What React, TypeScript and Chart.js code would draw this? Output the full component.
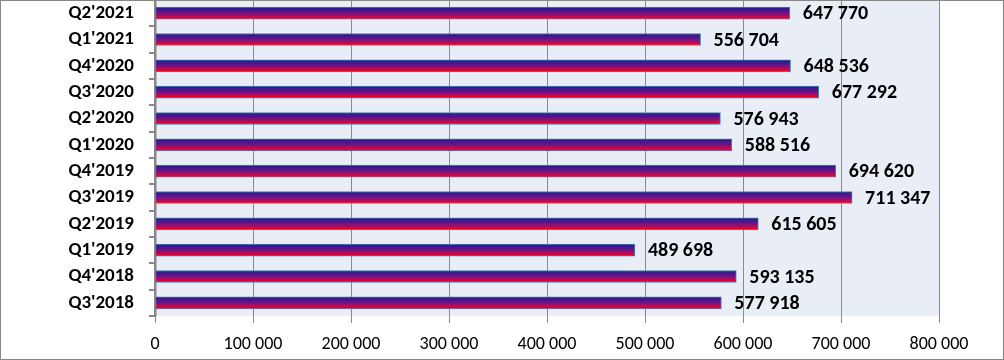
import React, { useEffect, useRef } from "react";
import { Chart, registerables } from "chart.js";

Chart.register(...registerables);

const categories = [
  "Q3'2018", "Q4'2018", "Q1'2019", "Q2'2019", "Q3'2019", "Q4'2019",
  "Q1'2020", "Q2'2020", "Q3'2020", "Q4'2020", "Q1'2021", "Q2'2021",
];
const values = [
  577918, 593135, 489698, 615605, 711347, 694620,
  588516, 576943, 677292, 648536, 556704, 647770,
];
const xMin = 0;
const xMax = 800000;
const xStep = 100000;

const FONT = "Carlito, Calibri, Lato, 'Open Sans', 'DejaVu Sans', sans-serif";
const fmt = (v: number) => String(Math.round(v)).replace(/\B(?=(\d{3})+(?!\d))/g, " ");

const BAR_THICK = 12;

const makeGradient = (ctx: CanvasRenderingContext2D, top: number, h: number) => {
  const g = ctx.createLinearGradient(0, top, 0, top + h);
  g.addColorStop(0, "#221a8c");
  g.addColorStop(0.45, "#661488");
  g.addColorStop(0.78, "#c8084c");
  g.addColorStop(1, "#ff0000");
  return g;
};

const bgPlugin = {
  id: "bgPlugin",
  beforeDraw(chart: any) {
    const { ctx, chartArea } = chart;
    ctx.save();
    ctx.fillStyle = "#ffffff";
    ctx.fillRect(0, 0, chart.width, chart.height);
    ctx.fillStyle = "#E9EDF6";
    ctx.fillRect(chartArea.left, chartArea.top, chartArea.right - chartArea.left, chartArea.bottom - chartArea.top);
    ctx.restore();
  },
  beforeDatasetsDraw(chart: any) {
    const meta = chart.getDatasetMeta(0);
    meta.data.forEach((el: any) => {
      const h = el.height;
      const top = el.y - h / 2;
      if (isFinite(top) && isFinite(h) && el.options) {
        try {
          el.options.backgroundColor = makeGradient(chart.ctx, top, h);
        } catch (e) {}
      }
    });
  },
  afterDraw(chart: any) {
    const { ctx } = chart;
    ctx.save();
    ctx.strokeStyle = "#878787";
    ctx.lineWidth = 1;
    ctx.strokeRect(0.5, 0.5, chart.width - 1, chart.height - 1);
    ctx.restore();
  },
};

const labelPlugin = {
  id: "labelPlugin",
  afterDatasetsDraw(chart: any) {
    const { ctx } = chart;
    const meta = chart.getDatasetMeta(0);
    ctx.save();
    ctx.font = `bold 20px ${FONT}`;
    ctx.fillStyle = "#000000";
    ctx.textAlign = "left";
    ctx.textBaseline = "middle";
    meta.data.forEach((el: any, i: number) => {
      ctx.fillText(fmt(values[i]), el.x + 13, el.y + 1);
    });
    ctx.restore();
  },
};

export default function App() {
  const ref = useRef<HTMLCanvasElement | null>(null);
  useEffect(() => {
    document.body.style.margin = "0";
    const canvas = ref.current!;
    const chart = new Chart(canvas, {
      type: "bar",
      data: {
        labels: categories,
        datasets: [
          {
            data: values,
            barThickness: BAR_THICK,
            borderWidth: 1,
            borderColor: "#4A7EBB",
            borderSkipped: false,
            backgroundColor: (context: any) => (context.dataIndex >= 0 ? "#7a1080" : "#7a1080"),
          },
        ],
      },
      options: {
        indexAxis: "y",
        responsive: false,
        animation: false,
        layout: { padding: { left: 0, right: 65, top: 0, bottom: 0 } },
        plugins: {
          legend: { display: false },
          tooltip: { enabled: false },
          title: { display: false },
        },
        scales: {
          x: {
            type: "linear",
            min: xMin,
            max: xMax,
            ticks: {
              stepSize: xStep,
              callback: (v: any) => fmt(Number(v)),
              color: "#000000",
              font: { family: FONT, size: 18 },
              padding: 11,
              maxRotation: 0,
              autoSkip: false,
            },
            grid: {
              color: "#8a8a8a",
              lineWidth: 1,
              tickLength: 7,
              drawTicks: true,
            },
            border: { display: false },
            afterFit: (scale: any) => {
              scale.height = 44;
              scale.paddingLeft = 0;
              scale.paddingRight = 0;
            },
          },
          y: {
            type: "category",
            reverse: true,
            ticks: {
              color: "#000000",
              font: { family: FONT, size: 19, weight: "bold" },
              padding: 15,
              autoSkip: false,
            },
            grid: {
              drawOnChartArea: false,
              drawTicks: true,
              tickLength: 6,
              color: "#888888",
              lineWidth: 2,
              offset: true,
            },
            border: { display: true, color: "#888888", width: 2.5 },
            afterFit: (scale: any) => {
              scale.width = 155;
              scale.paddingTop = 0;
              scale.paddingBottom = 0;
            },
          },
        },
      },
      plugins: [bgPlugin, labelPlugin],
    } as any);
    return () => chart.destroy();
  }, []);
  return <canvas ref={ref} width={1004} height={360} style={{ display: "block", width: 1004, height: 360 }} />;
}
